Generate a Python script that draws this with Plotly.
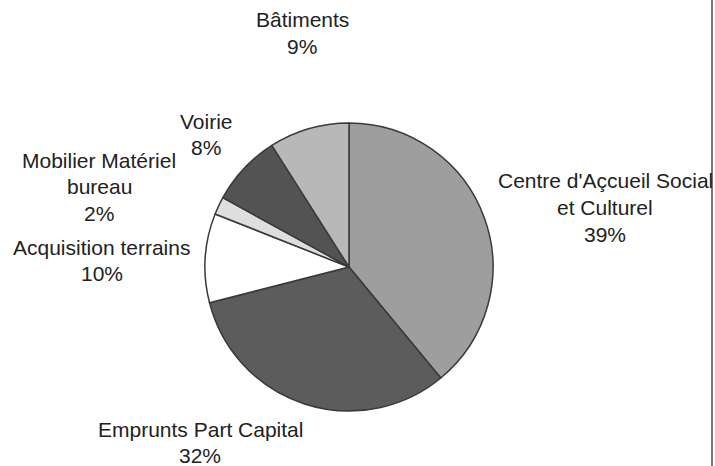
import plotly.graph_objects as go

labels = ["Centre d'Açcueil Social<br>et Culturel", "Emprunts Part Capital", "Acquisition terrains",
          "Mobilier Matériel<br>bureau", "Voirie", "Bâtiments"]
values = [39, 32, 10, 2, 8, 9]
colors = ["#9e9e9e", "#5c5c5c", "#ffffff", "#dedede", "#535353", "#b8b8b8"]

# label placement in reference pixels: (centre x, first line y)
label_pos = [(605, 181), (200, 429), (102, 247), (99, 160), (206, 121), (302, 20)]

W, H = 715, 466
CX, CY, R = 349, 267, 144

fig = go.Figure(go.Pie(
    labels=labels, values=values, sort=False, direction="clockwise", rotation=0,
    marker=dict(colors=colors, line=dict(color="#3a3a3a", width=1.5)),
    textinfo="none", hoverinfo="label+percent", showlegend=False,
    domain=dict(x=[(CX - R) / W, (CX + R) / W], y=[(H - CY - R) / H, (H - CY + R) / H]),
))

step = 26.5
for lab, val, (px, py) in zip(labels, values, label_pos):
    lines = lab.split("<br>") + [f"{val}%"]
    for i, ln in enumerate(lines):
        fig.add_annotation(x=px / W, y=1 - (py + i * step) / H, xref="paper", yref="paper",
                           text=ln, showarrow=False, xanchor="center", yanchor="middle",
                           font=dict(family="Liberation Sans, Arial", size=21, color="#222222"))

fig.add_shape(type="line", xref="paper", yref="paper", x0=712 / W, x1=712 / W,
              y0=0, y1=1, line=dict(color="#7a7a7a", width=2))

fig.update_layout(width=W, height=H, margin=dict(l=0, r=0, t=0, b=0),
                  paper_bgcolor="white", plot_bgcolor="white")
fig.write_html("out.html", config={"displayModeBar": False},
               post_script="document.body.style.margin='0';document.body.style.overflow='hidden';")
